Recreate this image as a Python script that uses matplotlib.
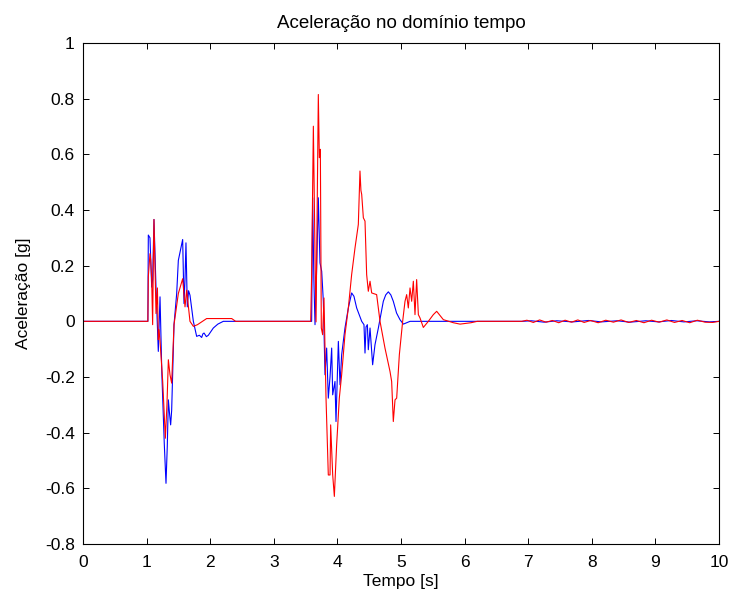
import numpy as np
import matplotlib
matplotlib.use("Agg")
import matplotlib.pyplot as plt

# blue trace
blue_t = [0, 1.02, 1.027, 1.053, 1.080, 1.095, 1.116, 1.148, 1.184, 1.211, 1.240,
          1.278, 1.305, 1.325, 1.342, 1.360, 1.378, 1.394, 1.431, 1.473, 1.499,
          1.567, 1.588, 1.604, 1.619, 1.640, 1.660, 1.682, 1.735, 1.787, 1.830,
          1.866, 1.885, 1.903, 1.940, 1.971, 2.049, 2.120, 2.206, 2.338, 3.58,
          3.595, 3.611, 3.630, 3.648, 3.674, 3.700, 3.726, 3.753, 3.779, 3.805,
          3.831, 3.857, 3.884, 3.910, 3.926, 3.962, 3.978, 4.015, 4.041, 4.067,
          4.119, 4.172, 4.224, 4.260, 4.303, 4.382, 4.418, 4.434, 4.450, 4.471,
          4.486, 4.513, 4.554, 4.591, 4.644, 4.722, 4.760, 4.801, 4.840, 4.879,
          4.930, 4.984, 5.037, 5.142, 5.300, 6.90, 7.05, 7.25, 7.45, 7.70,
          7.95, 8.15, 8.40, 8.60, 8.85, 9.05, 9.25, 9.45, 9.65, 9.85, 10.0]
blue_v = [0, 0, 0.310, 0.300, 0.123, 0.150, 0.366, 0.120, -0.108, 0.088, -0.190,
          -0.440, -0.582, -0.450, -0.282, -0.330, -0.372, -0.320, -0.012, 0.100, 0.219,
          0.294, 0.064, 0.150, 0.282, 0.052, 0.110, 0.094, 0.000, -0.054, -0.050,
          -0.058, -0.045, -0.042, -0.055, -0.050, -0.024, -0.010, 0.000, 0.000, 0.000,
          0.000, 0.444, 0.150, -0.012, 0.192, 0.444, 0.210, 0.180, 0.072, -0.192,
          -0.096, -0.276, -0.200, -0.096, -0.264, -0.216, -0.360, -0.072, -0.228, -0.120,
          -0.024, 0.048, 0.102, 0.090, 0.048, 0.000, -0.012, -0.114, -0.020, -0.012,
          -0.102, -0.024, -0.156, -0.084, -0.024, 0.072, 0.095, 0.106, 0.095, 0.072,
          0.030, 0.006, -0.010, 0.000, 0.000, 0.000, 0.002, -0.003, 0.002, -0.002,
          0.003, -0.002, 0.002, -0.003, 0.002, -0.002, 0.003, -0.002, 0.002, -0.002, 0.000]

# red trace
red_t = [0, 1.02, 1.027, 1.053, 1.065, 1.080, 1.095, 1.105, 1.116, 1.148, 1.170,
         1.184, 1.195, 1.211, 1.253, 1.295, 1.320, 1.342, 1.368, 1.394, 1.431,
         1.499, 1.567, 1.604, 1.630, 1.682, 1.735, 1.800, 1.944, 2.338, 2.40,
         3.58, 3.595, 3.622, 3.648, 3.664, 3.700, 3.716, 3.732, 3.747, 3.768,
         3.789, 3.821, 3.857, 3.884, 3.894, 3.926, 3.952, 3.988, 4.030, 4.067,
         4.119, 4.172, 4.224, 4.277, 4.329, 4.355, 4.370, 4.382, 4.408, 4.434,
         4.460, 4.486, 4.513, 4.539, 4.617, 4.670, 4.748, 4.827, 4.853, 4.879,
         4.906, 4.932, 4.974, 5.026, 5.063, 5.089, 5.115, 5.142, 5.168, 5.194,
         5.220, 5.246, 5.273, 5.299, 5.351, 5.430, 5.508, 5.561, 5.666, 5.823,
         5.928, 6.10, 6.20, 6.90, 6.98, 7.08, 7.18, 7.28, 7.38, 7.48, 7.58,
         7.68, 7.78, 7.88, 7.98, 8.10, 8.22, 8.34, 8.46, 8.58, 8.70, 8.82,
         8.94, 9.06, 9.18, 9.30, 9.42, 9.54, 9.66, 9.78, 9.90, 10.0]
red_v = [0, 0, 0.160, 0.243, 0.220, 0.147, -0.012, 0.200, 0.366, 0.028, 0.120,
         -0.066, -0.030, -0.070, -0.216, -0.420, -0.300, -0.138, -0.192, -0.222, -0.012,
         0.100, 0.153, 0.052, 0.112, 0.000, -0.018, -0.012, 0.010, 0.010, 0.000,
         0.000, 0.168, 0.701, 0.240, -0.002, 0.815, 0.588, 0.618, -0.024, -0.048,
         0.084, -0.276, -0.552, -0.552, -0.372, -0.552, -0.629, -0.444, -0.276, -0.192,
         -0.048, 0.048, 0.168, 0.264, 0.348, 0.540, 0.470, 0.456, 0.372, 0.360,
         0.168, 0.108, 0.144, 0.102, 0.096, 0.000, -0.096, -0.180, -0.216, -0.360,
         -0.282, -0.276, -0.120, 0.000, 0.072, 0.096, 0.048, 0.120, 0.072, 0.144,
         0.024, 0.150, 0.024, 0.012, -0.022, 0.000, 0.024, 0.036, 0.006, -0.005,
         -0.010, -0.005, 0.000, 0.000, 0.004, -0.004, 0.005, -0.003, 0.003, -0.005,
         0.004, -0.003, 0.005, -0.004, 0.003, -0.005, 0.004, -0.003, 0.005, -0.004,
         0.003, -0.005, 0.004, -0.003, 0.005, -0.004, 0.003, -0.005, 0.004, -0.003,
         -0.004, 0.000]

x_ticks = [0, 1, 2, 3, 4, 5, 6, 7, 8, 9, 10]
y_ticks = [-0.8, -0.6, -0.4, -0.2, 0, 0.2, 0.4, 0.6, 0.8, 1]
y_tick_labels = ["-0.8", "-0.6", "-0.4", "-0.2", "0", "0.2", "0.4", "0.6", "0.8", "1"]

plt.rcParams['font.family'] = ['Liberation Sans', 'DejaVu Sans']
plt.rcParams['axes.unicode_minus'] = False

fig = plt.figure(figsize=(7.3, 5.92), dpi=100)
ax = fig.add_axes([83/730, 1 - 544/592, (719 - 83)/730, (544 - 43)/592])

ax.plot(blue_t, blue_v, color='#0000ff', lw=0.8)
ax.plot(red_t, red_v, color='#ff0000', lw=0.8)

ax.set_xlim(0, 10)
ax.set_ylim(-0.8, 1)
ax.set_xticks(x_ticks)
ax.set_yticks(y_ticks)
ax.set_yticklabels(y_tick_labels)
ax.tick_params(direction='in', top=True, right=True, length=4.5, width=0.7,
               labelsize=12.5)
ax.tick_params(axis='x', pad=8)
ax.tick_params(axis='y', pad=6)
for s in ax.spines.values():
    s.set_linewidth(0.8)

ax.set_title("Aceleração no domínio tempo", fontsize=13.5, pad=11)
ax.set_xlabel("Tempo [s]", fontsize=12.5, labelpad=3)
ax.set_ylabel("Aceleração [g]", fontsize=12.5, labelpad=10)

fig.savefig("out.png", dpi=100)
